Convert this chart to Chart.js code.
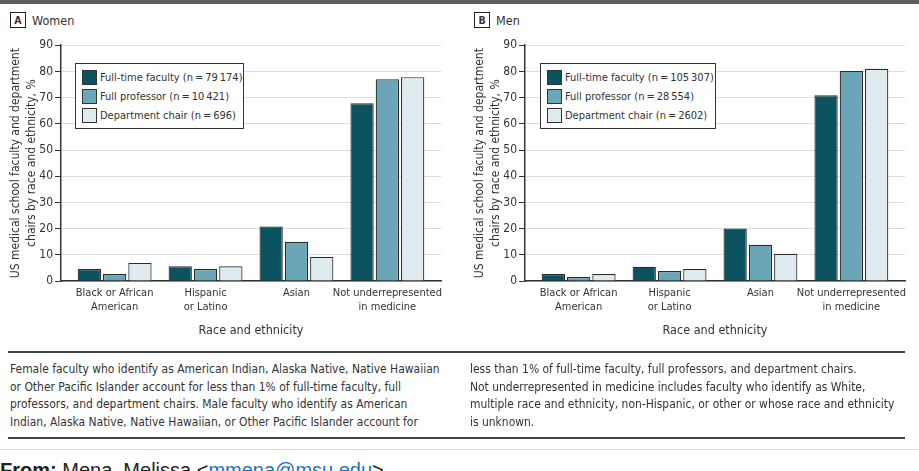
<!DOCTYPE html>
<html>
<head>
<meta charset="utf-8">
<script src="https://cdn.jsdelivr.net/npm/chart.js@4.4.1/dist/chart.umd.min.js"></script>
<style>
  html, body { margin: 0; padding: 0; background: #fff; }
  #page { position: relative; width: 919px; height: 471px; overflow: hidden; background: #fff;
          font-family: "DejaVu Sans Condensed", sans-serif; color: #333; }
  #topbar { position: absolute; left: 0; top: 0; width: 919px; height: 4px; background: #5e5e5e; }
  .panel-tag { position: absolute; top: 12px; height: 16px; display: flex; align-items: center; font-size: 12.5px; color: #333; }
  .panel-tag b { display: inline-block; width: 14px; height: 14px; line-height: 14px; text-align: center;
                 border: 1px solid #222; font-size: 10.5px; margin-right: 6px; }
  canvas { position: absolute; }
  .legend { position: absolute; top: 63px; height: 66px; border: 1.5px solid #333; background: #fff;
            font-size: 11px; color: #333; padding: 4px 6px 0 6px; box-sizing: border-box; }
  .legend div { height: 19px; display: flex; align-items: center; white-space: nowrap; }
  .legend span { flex: none; display: inline-block; width: 13px; height: 13px; border: 1px solid #333; margin-right: 3px; }
  .rule { position: absolute; left: 8px; width: 897px; height: 2px; background: #444; }
  .caption { position: absolute; top: 360px; font-size: 12.5px; line-height: 17.7px; color: #333; }
  .caption div { white-space: nowrap; transform-origin: left center; }
  #hr2 { position: absolute; left: 0; top: 449px; width: 919px; height: 1px; background: #ddd; }
  #from { position: absolute; left: 0; top: 459px; font-family: "Liberation Sans", sans-serif; font-size: 20px; color: #222; white-space: nowrap; }
  #from a { color: #1a73c8; text-decoration: none; }
</style>
</head>
<body>
<div id="page">
  <div id="topbar"></div>
  <div class="panel-tag" style="left:10px"><b>A</b>Women</div>
  <div class="panel-tag" style="left:474px"><b>B</b>Men</div>
  <canvas id="chartA" width="470" height="306" style="left:0px;top:36px;width:470px;height:306px"></canvas>
  <canvas id="chartB" width="470" height="306" style="left:464px;top:36px;width:470px;height:306px"></canvas>
  <div class="legend" id="legendA" style="left:75px;width:169px"></div>
  <div class="legend" id="legendB" style="left:540px;width:176px"></div>
  <div class="rule" style="top:351px"></div>
  <div class="caption" style="left:10px">
    <div>Female faculty who identify as American Indian, Alaska Native, Native Hawaiian</div>
    <div>or Other Pacific Islander account for less than 1% of full-time faculty, full</div>
    <div>professors, and department chairs. Male faculty who identify as American</div>
    <div>Indian, Alaska Native, Native Hawaiian, or Other Pacific Islander account for</div>
  </div>
  <div class="caption" style="left:470px">
    <div>less than 1% of full-time faculty, full professors, and department chairs.</div>
    <div>Not underrepresented in medicine includes faculty who identify as White,</div>
    <div>multiple race and ethnicity, non-Hispanic, or other or whose race and ethnicity</div>
    <div>is unknown.</div>
  </div>
  <div class="rule" style="top:437px"></div>
  <div id="hr2"></div>
  <div id="from"><b>From:</b> Mena, Melissa &lt;<a>mmena@msu.edu</a>&gt;</div>
</div>
<script>
const categories = [["Black or African", "American"], ["Hispanic", "or Latino"], ["Asian"], ["Not underrepresented", "in medicine"]];
const yTicks = [0, 10, 20, 30, 40, 50, 60, 70, 80, 90];

const womenFullTime = [4.6, 5.6, 20.8, 67.8];
const womenFullProf = [2.7, 4.6, 15.0, 77.0];
const womenDeptChair = [6.9, 5.6, 9.2, 77.8];
const womenLabels = ["Full-time faculty (n\u2009=\u200979\u2009174)", "Full professor (n\u2009=\u200910\u2009421)", "Department chair (n\u2009=\u2009696)"];

const menFullTime = [2.7, 5.4, 20.0, 70.9];
const menFullProf = [1.5, 3.8, 13.8, 80.2];
const menDeptChair = [2.7, 4.6, 10.4, 81.0];
const menLabels = ["Full-time faculty (n\u2009=\u2009105\u2009307)", "Full professor (n\u2009=\u200928\u2009554)", "Department chair (n\u2009=\u20092602)"];

const colors = ["#0c5361", "#6aa6b7", "#e0ebef"];
const fontFamily = '"DejaVu Sans Condensed", sans-serif';

function makeLegend(id, labels) {
    const box = document.getElementById(id);
    labels.forEach((label, i) => {
        const row = document.createElement("div");
        row.innerHTML = `<span style="background:${colors[i]}"></span>${label}`;
        box.appendChild(row);
    });
}

// squeeze caption lines so the first one spans the same width as in the print
function fitCaption() {
    const lines = document.querySelectorAll(".caption div");
    const first = lines[0];
    first.style.display = "inline-block";
    const k = 430 / first.offsetWidth;
    first.style.display = "";
    lines.forEach(l => { l.style.transform = `scaleX(${k})`; });
}

function makeChart(canvasId, series, labels) {
    const ctx = document.getElementById(canvasId).getContext("2d");
    return new Chart(ctx, {
        type: "bar",
        data: {
            datasets: series.map((values, i) => ({
                label: labels[i],
                data: values.map((v, j) => ({ x: j, y: v })),
                backgroundColor: colors[i],
                borderColor: "#2b2b2b",
                borderWidth: 1.2,
                borderSkipped: "bottom",
                categoryPercentage: 0.835,
                barPercentage: 0.92
            }))
        },
        options: {
            responsive: false,
            animation: false,
            layout: { padding: { top: 2, right: 29, left: 4, bottom: 0 } },
            plugins: {
                legend: { display: false },
                tooltip: { enabled: false }
            },
            scales: {
                x: {
                    type: "linear",
                    min: -0.59,
                    max: 3.59,
                    offset: false,
                    afterBuildTicks: scale => { scale.ticks = categories.map((c, j) => ({ value: j })); },
                    grid: { display: false, drawTicks: false, tickLength: 0 },
                    border: { color: "#333", width: 1.5 },
                    ticks: {
                        color: "#333", font: { family: fontFamily, size: 11 }, maxRotation: 0, autoSkip: false, padding: 6,
                        callback: value => categories[value]
                    },
                    title: { display: true, text: "Race and ethnicity", color: "#333", font: { family: fontFamily, size: 12.5 }, padding: { top: 6 } },
                    afterFit: scale => { scale.height = 61; }
                },
                y: {
                    min: 0,
                    max: 90,
                    afterBuildTicks: scale => { scale.ticks = yTicks.map(v => ({ value: v })); },
                    grid: { color: "#dedede", lineWidth: 1, tickLength: 6, tickColor: "#333", drawTicks: true },
                    border: { color: "#333", width: 1.5 },
                    ticks: { color: "#333", font: { family: fontFamily, size: 12 }, padding: 2 },
                    title: {
                        display: true,
                        text: ["US medical school faculty and department", "chairs by race and ethnicity, %"],
                        color: "#333",
                        font: { family: fontFamily, size: 12, lineHeight: 1.35 },
                        padding: { bottom: 1 }
                    },
                    afterFit: scale => { scale.width = 57; }
                }
            }
        }
    });
}

makeLegend("legendA", womenLabels);
makeLegend("legendB", menLabels);
fitCaption();
makeChart("chartA", [womenFullTime, womenFullProf, womenDeptChair], womenLabels);
makeChart("chartB", [menFullTime, menFullProf, menDeptChair], menLabels);
</script>
</body>
</html>
